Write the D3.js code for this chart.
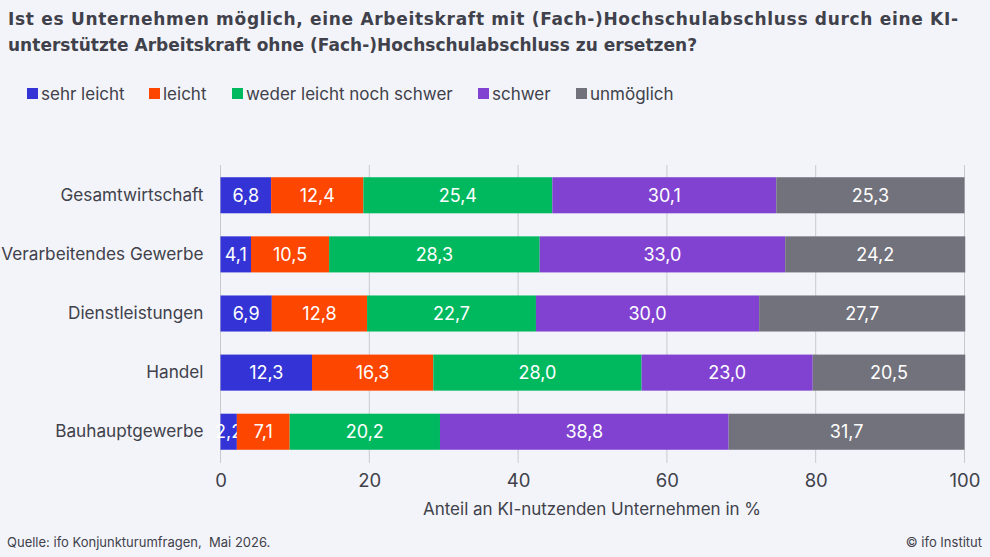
<!DOCTYPE html>
<html>
<head>
<meta charset="utf-8">
<script src="https://cdn.jsdelivr.net/npm/d3@7"></script>
<style>
  body { margin: 0; background: #f3f4f9; }
  svg { display: block; font-family: Inter, "Noto Sans", sans-serif; }
</style>
</head>
<body>
<svg id="chart" width="990" height="557"></svg>
<script>
// Data
const categories = ['Gesamtwirtschaft', 'Verarbeitendes Gewerbe', 'Dienstleistungen', 'Handel', 'Bauhauptgewerbe'];
const seriesNames = ['sehr leicht', 'leicht', 'weder leicht noch schwer', 'schwer', 'unmöglich'];
const sehrLeicht = [6.8, 4.1, 6.9, 12.3, 2.2];
const leicht = [12.4, 10.5, 12.8, 16.3, 7.1];
const weder = [25.4, 28.3, 22.7, 28.0, 20.2];
const schwer = [30.1, 33.0, 30.0, 23.0, 38.8];
const unmoeglich = [25.3, 24.2, 27.7, 20.5, 31.7];
const xTicks = [0, 20, 40, 60, 80, 100];

const colors = ['#3434d6', '#fd4600', '#00b95f', '#8142d1', '#72727c'];

const rows = categories.map((c, i) => ({
    cat: c,
    'sehr leicht': sehrLeicht[i],
    'leicht': leicht[i],
    'weder leicht noch schwer': weder[i],
    'schwer': schwer[i],
    'unmöglich': unmoeglich[i]
}));

const svg = d3.select('#chart');
const textColor = '#40414b';

// Title (two lines, fitted to the reference width)
const titleLines = [
    { text: 'Ist es Unternehmen möglich, eine Arbeitskraft mit (Fach-)Hochschulabschluss durch eine KI-', y: 25, len: 950 },
    { text: 'unterstützte Arbeitskraft ohne (Fach-)Hochschulabschluss zu ersetzen?', y: 51, len: 689 }
];
svg.append('g')
    .selectAll('text')
    .data(titleLines)
    .enter().append('text')
    .attr('x', 8)
    .attr('y', d => d.y)
    .attr('font-family', '"DejaVu Sans", sans-serif')
    .attr('font-size', 17)
    .attr('font-weight', 700)
    .attr('fill', textColor)
    .attr('textLength', d => d.len)
    .attr('lengthAdjust', 'spacing')
    .text(d => d.text);

// Legend
const legendX = [27, 149, 232, 478, 576];
const legend = svg.append('g');
seriesNames.forEach((name, i) => {
    legend.append('rect')
        .attr('x', legendX[i])
        .attr('y', 88)
        .attr('width', 11)
        .attr('height', 11)
        .attr('fill', colors[i]);
    legend.append('text')
        .attr('x', legendX[i] + 14)
        .attr('y', 100)
        .attr('font-size', 17)
        .attr('fill', textColor)
        .text(name);
});

// Scales
const x = d3.scaleLinear().domain([0, 100]).range([220.5, 964.5]);
const y = d3.scaleBand()
    .domain(categories)
    .range([166, 461])
    .paddingInner(0.39)
    .paddingOuter(0.19);

// Gridlines
svg.append('g')
    .selectAll('line')
    .data(xTicks)
    .enter().append('line')
    .attr('x1', d => x(d))
    .attr('x2', d => x(d))
    .attr('y1', 165)
    .attr('y2', 463)
    .attr('stroke', '#c9cad0')
    .attr('stroke-width', 1);

// Stacked bars
const stack = d3.stack().keys(seriesNames);
const stacked = stack(rows);

const layers = svg.append('g')
    .selectAll('g')
    .data(stacked)
    .enter().append('g')
    .attr('fill', (d, i) => colors[i]);

layers.selectAll('rect')
    .data(d => d)
    .enter().append('rect')
    .attr('x', d => x(d[0]))
    .attr('y', d => y(d.data.cat))
    .attr('width', d => x(d[1]) - x(d[0]))
    .attr('height', y.bandwidth());

// Segment labels
const fmt = v => v.toFixed(1).replace('.', ',');
layers.selectAll('text')
    .data(d => d)
    .enter().append('text')
    .attr('x', d => (x(d[0]) + x(d[1])) / 2)
    .attr('y', d => y(d.data.cat) + y.bandwidth() / 2)
    .attr('dy', '0.36em')
    .attr('text-anchor', 'middle')
    .attr('font-size', 18)
    .attr('fill', '#ffffff')
    .text(d => fmt(d[1] - d[0]));

// Category labels
svg.append('g')
    .attr('transform', `translate(${x(0)},0)`)
    .call(d3.axisLeft(y).tickSize(0).tickPadding(17))
    .call(g => g.select('.domain').remove())
    .selectAll('text')
    .attr('font-size', 17.2)
    .attr('font-family', 'Inter, "Noto Sans", sans-serif')
    .attr('fill', textColor);

// X axis
svg.append('g')
    .attr('transform', 'translate(0,470)')
    .call(d3.axisBottom(x).tickValues(xTicks).tickSize(0).tickPadding(4))
    .call(g => g.select('.domain').remove())
    .selectAll('text')
    .attr('font-size', 18.5)
    .attr('font-family', 'Inter, "Noto Sans", sans-serif')
    .attr('fill', textColor);

svg.append('text')
    .attr('x', 592)
    .attr('y', 515)
    .attr('text-anchor', 'middle')
    .attr('font-size', 17)
    .attr('fill', textColor)
    .text('Anteil an KI-nutzenden Unternehmen in %');

// Footer
svg.append('text')
    .attr('x', 7)
    .attr('y', 547)
    .attr('font-size', 13)
    .attr('fill', textColor)
    .attr('xml:space', 'preserve')
    .text('Quelle: ifo Konjunkturumfragen,  Mai 2026.');

svg.append('text')
    .attr('x', 982)
    .attr('y', 547)
    .attr('text-anchor', 'end')
    .attr('font-size', 13)
    .attr('fill', textColor)
    .text('© ifo Institut');
</script>
</body>
</html>
